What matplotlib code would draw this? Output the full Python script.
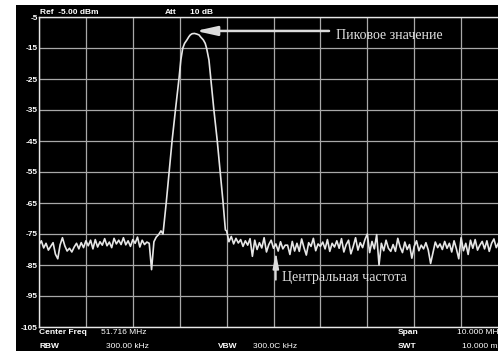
import numpy as np
import matplotlib
matplotlib.use("Agg")
import matplotlib.pyplot as plt
from matplotlib.patches import Rectangle

# analyser settings (screen readout)
center_freq = 51.716   # MHz
span = 10.0            # MHz
ref_level = -5.0       # dBm
db_per_div = 10.0
n_div = 10

# noise floor left of the carrier, 0.05 MHz step from the left edge
left_noise = [-78.5, -77.2, -79.5, -78.0, -80.2, -79.0, -77.8, -81.5, -83.0, -78.5,
              -76.2, -78.8, -80.5, -79.6, -80.8, -79.2, -78.0, -79.8, -77.8, -79.4,
              -77.2, -78.8, -77.0, -79.8, -76.8, -79.2, -77.5, -78.6, -76.5, -78.8,
              -77.6, -79.4, -76.4, -78.2, -77.0, -78.4, -76.2, -78.5, -77.2, -79.0,
              -76.8, -78.0, -76.0, -79.2, -77.0, -78.4, -77.6, -78.0, -86.5, -77.5,
              -76.0, -75.2, -74.0]

# carrier
peak_freq = [49.36, 49.43, 49.49, 49.555, 49.625, 49.70, 49.74, 49.78, 49.82,
             49.87, 49.91, 49.94, 49.98, 50.03, 50.08, 50.13, 50.16, 50.22, 50.26,
             50.29, 50.34, 50.38, 50.445, 50.515, 50.58, 50.64, 50.69]
peak_level = [-75.0, -64.7, -55.0, -44.7, -35.0, -25.0, -18.9, -15.1, -13.5,
              -12.4, -11.4, -10.8, -10.4, -10.3, -10.5, -10.8, -11.4, -12.4, -13.5,
              -15.1, -18.9, -25.0, -35.0, -44.7, -55.0, -64.7, -73.7]

# noise floor right of the carrier, 0.05 MHz step from 50.716 MHz
right_noise = [-74.0, -77.5, -75.8, -78.2, -76.4, -77.9, -76.8, -79.0, -77.2, -78.6,
               -76.5, -82.2, -77.0, -80.0, -77.8, -79.5, -76.2, -80.8, -78.4, -77.0,
               -79.6, -78.2, -80.5, -77.5, -79.8, -78.6, -78.6, -81.6, -77.4, -80.5,
               -78.0, -80.6, -76.6, -79.4, -81.8, -77.8, -79.0, -76.4, -80.4, -78.2,
               -79.0, -77.6, -79.8, -76.8, -80.6, -78.0, -79.2, -77.2, -79.6, -76.5,
               -80.8, -78.4, -77.0, -81.4, -79.0, -76.2, -80.2, -77.8, -79.4, -76.8,
               -75.0, -81.0, -77.4, -79.8, -75.2, -85.0, -78.0, -80.4, -77.0, -79.6,
               -80.6, -78.4, -80.6, -76.4, -79.2, -81.0, -77.6, -80.0, -78.4, -82.8,
               -79.0, -77.2, -80.4, -78.6, -79.8, -77.8, -80.2, -84.5, -81.0, -77.6,
               -79.4, -78.2, -80.0, -77.4, -79.6, -78.0, -80.8, -77.2, -79.8, -83.0,
               -76.2, -80.4, -78.0, -81.6, -77.0, -79.6, -76.8, -80.2, -78.6, -77.4,
               -79.8, -77.2, -80.6, -78.0, -76.6, -79.4, -77.8, -80.2, -78.4, -77.6,
               -79.0]

start_freq = center_freq - span / 2
step = 0.05
left_freq = start_freq + step * np.arange(len(left_noise))
right_freq = center_freq - 1.0 + step * np.arange(len(right_noise))

freq = np.concatenate([left_freq, peak_freq, right_freq])
level = np.concatenate([left_noise, peak_level, right_noise])
i_peak = int(np.argmax(peak_level))

W, H = 498, 351
fig = plt.figure(figsize=(W / 100, H / 100), dpi=100, facecolor="white")

def px(x, y):
    return x / W, 1 - y / H

# black screen area
fig.patches.append(Rectangle(px(16, H), (W - 16) / W, (H - 5) / H,
                             transform=fig.transFigure, facecolor="black",
                             edgecolor="none", zorder=-1))

# plot area runs past the right edge of the screenshot
ax = fig.add_axes([39 / W, 1 - 327 / H, 469 / W, 310 / H])
ax.set_zorder(2)
ax.set_facecolor("black")
ax.set_xlim(start_freq, start_freq + span)
bottom = ref_level - n_div * db_per_div
ax.set_ylim(bottom, ref_level)
ax.set_xticks(start_freq + np.arange(n_div + 1) * span / n_div)
ax.set_yticks(np.arange(bottom, ref_level + 1, db_per_div))
ax.set_xticklabels([])
ax.set_yticklabels([f"{v:.0f}" for v in ax.get_yticks()],
                   fontfamily="Liberation Sans", fontweight="bold", fontsize=6,
                   color="white")
ax.tick_params(length=0, pad=1)
ax.grid(True, color="#a8a8a8", lw=0.9)
for s in ["left", "top", "bottom"]:
    ax.spines[s].set_color("#e8e8e8")
    ax.spines[s].set_linewidth(1.0)
ax.spines["right"].set_visible(False)

ax.plot(freq, level, color="#e6e6e6", lw=1.2)

# annotations
ax.annotate("", xy=(peak_freq[i_peak] + 0.03, peak_level[i_peak] + 0.8),
            xytext=(52.90, peak_level[i_peak] + 0.8),
            arrowprops=dict(arrowstyle="-|>,head_length=0.9,head_width=0.2",
                            color="#dcdcdc", lw=1.8, mutation_scale=14,
                            shrinkA=0, shrinkB=0))
ax.text(53.05, -11.1, "Пиковое значение", color="#e0e0e0", fontsize=10,
        fontfamily="Liberation Serif", va="center", ha="left")

ax.annotate("", xy=(center_freq + 0.05, -80.8), xytext=(center_freq + 0.05, -89.8),
            arrowprops=dict(arrowstyle="-|>,head_length=0.8,head_width=0.15",
                            color="#dcdcdc", lw=1.2, mutation_scale=12,
                            shrinkA=0, shrinkB=0))
ax.text(center_freq + 0.18, -88.9, "Центральная частота", color="#e0e0e0",
        fontsize=10, fontfamily="Liberation Serif", va="center", ha="left")

# screen readouts
def label(x, y, s, bold=True):
    fig.text(*px(x, y), s, color="white", fontsize=6.0, va="center", ha="left",
             fontfamily="Liberation Sans", fontweight="bold" if bold else "normal",
             zorder=3)

label(40, 12.5, "Ref  -5.00 dBm")
label(165, 12.5, "Att")
label(190, 12.5, "10 dB")
label(39, 332, "Center Freq")
label(101, 332, "51.716 MHz", bold=False)
label(39, 346, "RBW")
label(106, 346, "300.00 kHz", bold=False)
label(218, 346, "VBW")
label(253, 346, "300.0C kHz", bold=False)
label(398, 332, "Span")
label(457, 332, "10.000 MHz", bold=False)
label(398, 346, "SWT")
label(462, 346, "10.000 ms", bold=False)

fig.savefig("out.png", dpi=100, facecolor="white")
